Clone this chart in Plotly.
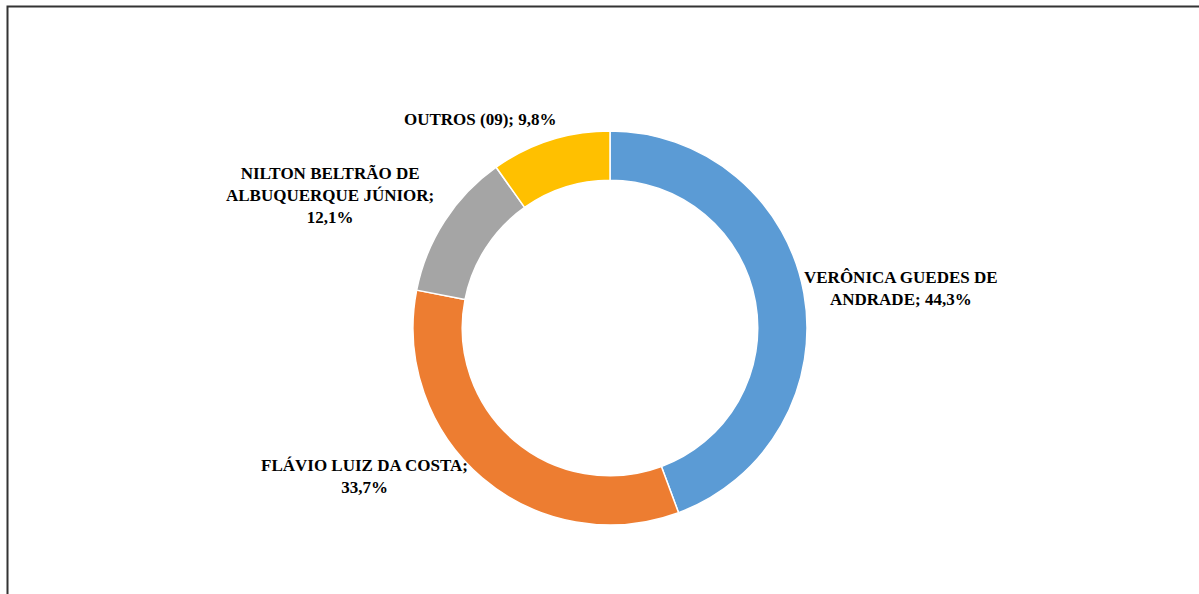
import plotly.graph_objects as go

W, H = 1199, 594

labels = ["VERÔNICA GUEDES DE ANDRADE", "FLÁVIO LUIZ DA COSTA",
          "NILTON BELTRÃO DE ALBUQUERQUE JÚNIOR", "OUTROS (09)"]
values = [44.3, 33.7, 12.1, 9.8]
colors = ["#5B9BD5", "#ED7D31", "#A5A5A5", "#FFC000"]
label_texts = [
    "VERÔNICA GUEDES DE<br>ANDRADE; 44,3%",
    "FLÁVIO LUIZ DA COSTA;<br>33,7%",
    "NILTON BELTRÃO DE<br>ALBUQUERQUE JÚNIOR;<br>12,1%",
    "OUTROS (09); 9,8%",
]
# label centers in pixels (x, y from top)
label_pos = [(901, 288), (364, 476), (330, 195), (480, 120)]

def px(x):
    return x / W

def py(y):
    return 1 - y / H

cx, cy, r = 610, 328, 197

fig = go.Figure(go.Pie(
    labels=labels, values=values, hole=0.75, sort=False,
    direction="clockwise", rotation=0,
    marker=dict(colors=colors, line=dict(color="white", width=1.5)),
    textinfo="none", hoverinfo="label+percent", showlegend=False,
    domain=dict(x=[px(cx - r), px(cx + r)], y=[py(cy + r), py(cy - r)]),
))

for t, (x, y) in zip(label_texts, label_pos):
    bold = "<b>" + t.replace("<br>", "</b><br><b>") + "</b>"
    fig.add_annotation(text=bold, x=px(x), y=py(y), xref="paper", yref="paper",
                       showarrow=False, xanchor="center", yanchor="middle",
                       align="center",
                       font=dict(family="Liberation Serif", size=17, color="#000000"))

fig.add_shape(type="rect", xref="paper", yref="paper",
              x0=px(7.5), x1=1.02, y0=-0.02, y1=py(6.5),
              line=dict(color="#333333", width=2))

fig.update_layout(width=W, height=H, margin=dict(l=0, r=0, t=0, b=0),
                  paper_bgcolor="white", plot_bgcolor="white",
                  font=dict(family="Liberation Serif"))

fig.write_html("out.html", config={"displayModeBar": False},
               post_script="document.body.style.margin='0';")
